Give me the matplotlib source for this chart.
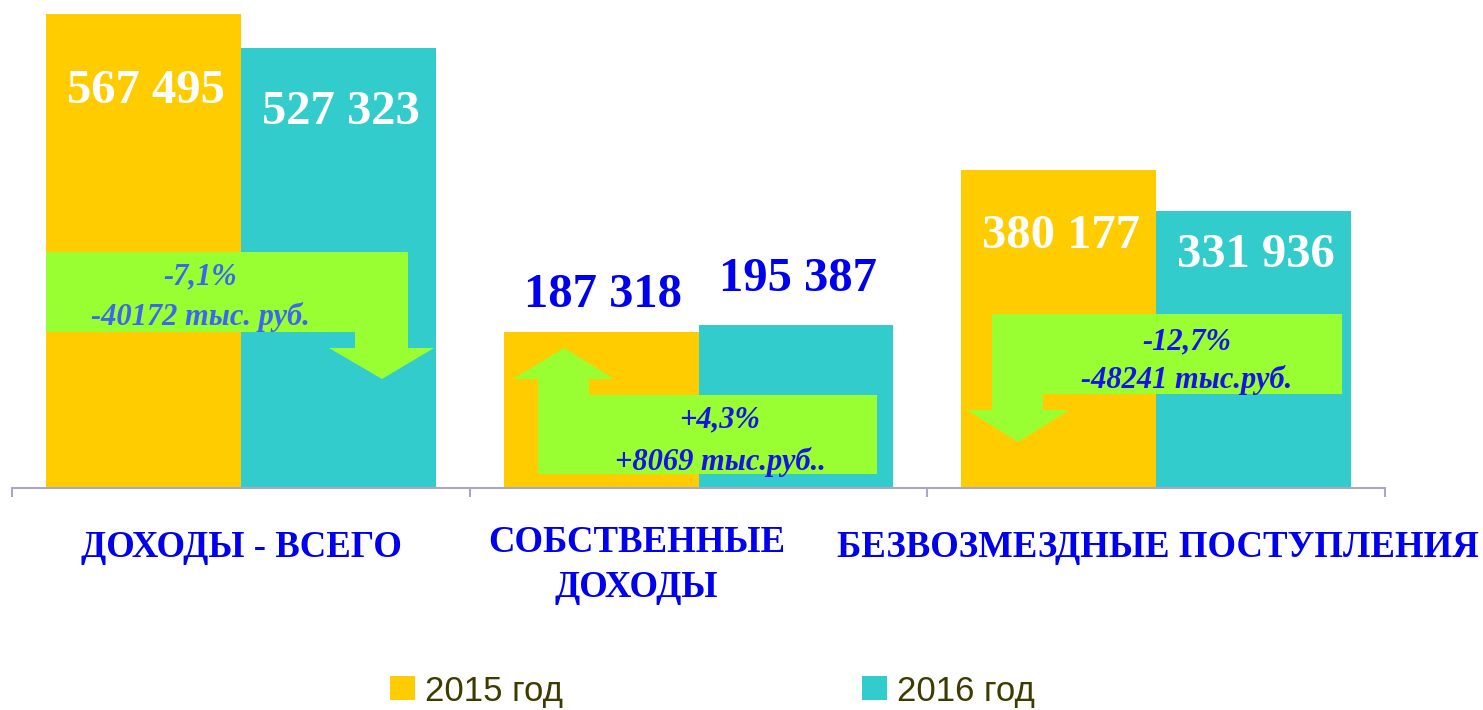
import matplotlib
matplotlib.use("Agg")
import matplotlib.pyplot as plt
import matplotlib.transforms as mtransforms
from matplotlib.patches import Polygon, Patch
import numpy as np

# ---- data ----
categories = ["ДОХОДЫ - ВСЕГО", "СОБСТВЕННЫЕ\nДОХОДЫ", "БЕЗВОЗМЕЗДНЫЕ ПОСТУПЛЕНИЯ"]
values_2015 = [567495, 187318, 380177]
values_2016 = [527323, 195387, 331936]
value_labels_2015 = ["567 495", "187 318", "380 177"]
value_labels_2016 = ["527 323", "195 387", "331 936"]
series_names = ["2015 год", "2016 год"]
change_pct = ["-7,1%", "+4,3%", "-12,7%"]
change_abs = ["-40172 тыс. руб.", "+8069 тыс.руб..", "-48241 тыс.руб."]

W, H = 1483, 710
fig = plt.figure(figsize=(W / 100, H / 100), dpi=100)
ax = fig.add_axes([12 / W, (H - 488) / H, 1373 / W, 488 / H])

# pixel transform (image coords, y down)
pix = mtransforms.Affine2D().scale(1 / W, -1 / H).translate(0, 1) + fig.transFigure

c15, c16 = "#FFCC00", "#33CCCC"
green = "#99FF33"
x = np.arange(len(categories))
bw = 0.426
b1 = ax.bar(x - bw / 2, values_2015, bw, color=c15, zorder=2)
b2 = ax.bar(x + bw / 2, values_2016, bw, color=c16, zorder=2)

ax.set_xlim(-0.5, 2.5)
ax.set_ylim(0, 584240)
for s in ["top", "right", "left"]:
    ax.spines[s].set_visible(False)
ax.spines["bottom"].set_color("#A8A8C4")
ax.spines["bottom"].set_linewidth(1.5)
ax.set_yticks([])
ax.set_xticks([])
ax.set_xticks([-0.5, 0.5, 1.5, 2.5], minor=True)
ax.tick_params(axis="x", which="minor", length=6.5, width=1.5, color="#A8A8C4",
               direction="out", labelbottom=False)

serif = "Liberation Serif"
# value labels: baseline offsets (px) from bar top, positive = below top (inside bar)
off15 = [89, -25, 78]
off16 = [76, -34, 56]
for bars, labs, offs in ((b1, value_labels_2015, off15), (b2, value_labels_2016, off16)):
    for r, lab, o in zip(bars, labs, offs):
        col = "white" if o > 0 else "#0000EE"
        ax.annotate(lab, (r.get_x() + r.get_width() / 2 + 0.005, r.get_height()),
                    xytext=(0, -o * 0.72), textcoords="offset points",
                    ha="center", va="baseline", fontsize=35, fontweight="bold",
                    family=serif, color=col, zorder=5)

# category labels (split lines, baselines in px)
blend = mtransforms.blended_transform_factory(ax.transData, pix)
label_dx = [1, -62, 2]          # px shift from category centre
label_base = [557, 552, 557]    # first-line baseline, px
line_gap = 45
for xi, lab, dx, by in zip(x, categories, label_dx, label_base):
    for k, line in enumerate(lab.split("\n")):
        ax.text(xi + dx / 457.7, by + k * line_gap, line, transform=blend,
                ha="center", va="baseline", fontsize=26.5, fontweight="bold",
                family=serif, color="#0000EE", clip_on=False)

# change arrows (decorations, image pixel coords)
arrows = [
    [(46, 252), (408, 252), (408, 348), (434, 348), (382, 379), (329, 348),
     (355, 348), (355, 332), (46, 332)],
    [(538, 474), (538, 379), (513, 379), (564, 348), (614, 379), (589, 379),
     (589, 395), (877, 395), (877, 474)],
    [(1342, 314), (992, 314), (992, 410), (967, 410), (1018, 442), (1069, 410),
     (1043, 410), (1043, 394), (1342, 394)],
]
for pts in arrows:
    ax.add_patch(Polygon(pts, closed=True, transform=pix, facecolor=green,
                         edgecolor="none", zorder=3, clip_on=False))

text_pos = [((200, 277), (200, 317)), ((720, 420), (720, 462)), ((1187, 342), (1187, 380))]
text_cols = ["#3D66F0", "#1414E6", "#1414E6"]
for (p1, p2), t1, t2, tc in zip(text_pos, change_pct, change_abs, text_cols):
    for p, t in ((p1, t1), (p2, t2)):
        ax.text(p[0], p[1], t, transform=pix, ha="center", va="center",
                fontsize=22, fontweight="bold", fontstyle="italic", family=serif,
                color=tc, zorder=4, clip_on=False)

handles = [Patch(facecolor=c15, edgecolor="none"), Patch(facecolor=c16, edgecolor="none")]
fig.legend(handles, series_names, loc="center left",
           bbox_to_anchor=(390 / W, 1 - 691 / H), ncol=2, frameon=False,
           borderpad=0, borderaxespad=0, handlelength=0.72, handleheight=0.68,
           handletextpad=0.29, columnspacing=8.6,
           prop={"family": "Liberation Sans", "size": 25}, labelcolor="#3C3C00")

fig.savefig("out.png", dpi=100)
